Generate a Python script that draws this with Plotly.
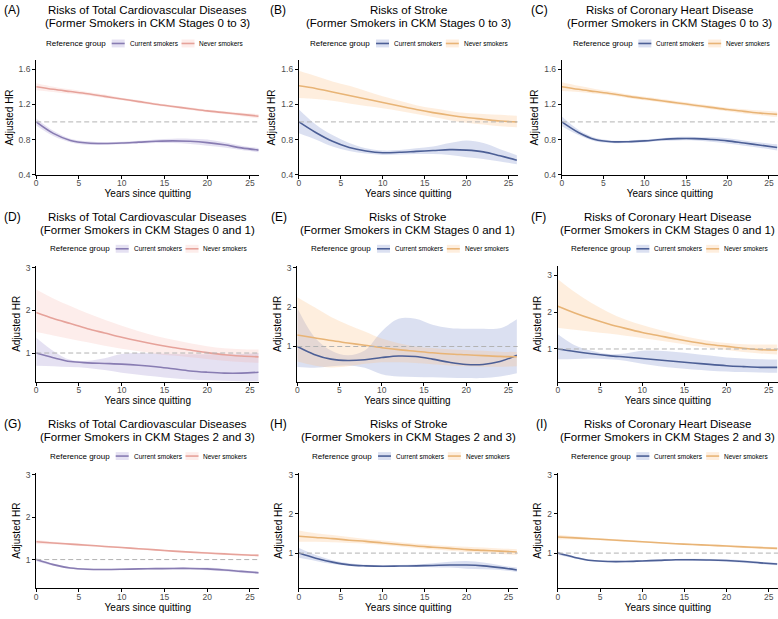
import plotly.graph_objects as go

# years since quitting (spline knots every 2 years)
YEARS = [0, 2, 4, 6, 8, 10, 12, 14, 16, 18, 20, 22, 24, 26]
REF_HR = 1.0

# ---- (A) total CVD, stages 0-3
A_CUR = [1.00, 0.87, 0.79, 0.76, 0.755, 0.76, 0.77, 0.78, 0.785, 0.78, 0.765, 0.74, 0.705, 0.68]
A_CUR_LO = [0.96, 0.84, 0.77, 0.74, 0.74, 0.745, 0.755, 0.76, 0.76, 0.75, 0.73, 0.71, 0.68, 0.655]
A_CUR_HI = [1.04, 0.90, 0.81, 0.78, 0.77, 0.775, 0.785, 0.80, 0.81, 0.81, 0.80, 0.77, 0.73, 0.705]
A_NEV = [1.40, 1.37, 1.345, 1.32, 1.29, 1.26, 1.23, 1.20, 1.175, 1.15, 1.125, 1.105, 1.085, 1.065]
A_NEV_LO = [1.36, 1.34, 1.32, 1.30, 1.27, 1.245, 1.215, 1.185, 1.16, 1.135, 1.11, 1.09, 1.065, 1.04]
A_NEV_HI = [1.44, 1.40, 1.37, 1.34, 1.31, 1.275, 1.245, 1.215, 1.19, 1.165, 1.14, 1.12, 1.105, 1.09]

# ---- (B) stroke, stages 0-3
B_CUR = [1.00, 0.88, 0.78, 0.71, 0.67, 0.65, 0.655, 0.665, 0.675, 0.685, 0.68, 0.66, 0.615, 0.565]
B_CUR_LO = [0.87, 0.80, 0.72, 0.67, 0.64, 0.625, 0.63, 0.635, 0.635, 0.625, 0.60, 0.58, 0.55, 0.52]
B_CUR_HI = [1.14, 0.97, 0.85, 0.76, 0.70, 0.675, 0.68, 0.70, 0.72, 0.76, 0.79, 0.76, 0.69, 0.62]
B_NEV = [1.41, 1.38, 1.34, 1.30, 1.26, 1.22, 1.18, 1.14, 1.105, 1.075, 1.05, 1.03, 1.01, 1.00]
B_NEV_LO = [1.27, 1.26, 1.24, 1.21, 1.18, 1.155, 1.125, 1.09, 1.055, 1.02, 0.99, 0.97, 0.95, 0.94]
B_NEV_HI = [1.58, 1.52, 1.46, 1.41, 1.35, 1.29, 1.24, 1.19, 1.155, 1.125, 1.10, 1.09, 1.08, 1.07]

# ---- (C) CHD, stages 0-3
C_CUR = [1.00, 0.88, 0.80, 0.775, 0.775, 0.785, 0.80, 0.81, 0.81, 0.80, 0.785, 0.76, 0.735, 0.71]
C_CUR_LO = [0.95, 0.85, 0.78, 0.76, 0.76, 0.77, 0.785, 0.79, 0.79, 0.775, 0.755, 0.73, 0.705, 0.675]
C_CUR_HI = [1.06, 0.91, 0.82, 0.79, 0.79, 0.80, 0.815, 0.83, 0.83, 0.825, 0.815, 0.79, 0.765, 0.745]
C_NEV = [1.40, 1.37, 1.345, 1.32, 1.29, 1.265, 1.24, 1.215, 1.19, 1.165, 1.14, 1.12, 1.10, 1.085]
C_NEV_LO = [1.35, 1.34, 1.32, 1.30, 1.27, 1.245, 1.22, 1.195, 1.17, 1.145, 1.12, 1.095, 1.075, 1.055]
C_NEV_HI = [1.45, 1.41, 1.375, 1.345, 1.31, 1.285, 1.26, 1.235, 1.21, 1.185, 1.16, 1.145, 1.13, 1.115]

# ---- (D) total CVD, stages 0-1
D_CUR = [1.00, 0.89, 0.80, 0.77, 0.755, 0.74, 0.715, 0.68, 0.63, 0.58, 0.55, 0.53, 0.53, 0.55]
D_CUR_LO = [0.70, 0.69, 0.67, 0.65, 0.60, 0.54, 0.49, 0.45, 0.41, 0.38, 0.36, 0.35, 0.34, 0.34]
D_CUR_HI = [1.36, 1.05, 0.84, 0.82, 0.88, 0.98, 1.00, 0.99, 0.98, 0.97, 0.97, 0.97, 0.98, 1.00]
D_NEV = [1.95, 1.81, 1.69, 1.57, 1.47, 1.37, 1.28, 1.20, 1.13, 1.07, 1.01, 0.96, 0.93, 0.91]
D_NEV_LO = [1.49, 1.41, 1.33, 1.25, 1.17, 1.10, 1.04, 0.98, 0.94, 0.90, 0.86, 0.82, 0.79, 0.77]
D_NEV_HI = [2.49, 2.28, 2.10, 1.93, 1.78, 1.64, 1.51, 1.40, 1.31, 1.23, 1.16, 1.11, 1.09, 1.08]

# ---- (E) stroke, stages 0-1
E_CUR = [1.00, 0.80, 0.68, 0.645, 0.665, 0.72, 0.76, 0.745, 0.68, 0.60, 0.545, 0.545, 0.62, 0.78]
E_CUR_LO = [0.48, 0.46, 0.50, 0.52, 0.46, 0.30, 0.24, 0.23, 0.22, 0.21, 0.20, 0.20, 0.24, 0.32]
E_CUR_HI = [1.98, 1.25, 0.90, 0.78, 0.90, 1.38, 1.70, 1.70, 1.55, 1.47, 1.45, 1.45, 1.46, 1.69]
E_NEV = [1.29, 1.22, 1.15, 1.09, 1.03, 0.97, 0.92, 0.88, 0.84, 0.81, 0.79, 0.77, 0.75, 0.74]
E_NEV_LO = [0.62, 0.52, 0.47, 0.50, 0.56, 0.60, 0.60, 0.58, 0.55, 0.52, 0.50, 0.49, 0.49, 0.50]
E_NEV_HI = [2.25, 2.00, 1.75, 1.55, 1.38, 1.20, 1.08, 1.00, 0.96, 0.93, 0.91, 0.89, 0.87, 0.86]

# ---- (F) CHD, stages 0-1
F_CUR = [1.00, 0.93, 0.87, 0.82, 0.78, 0.74, 0.70, 0.66, 0.62, 0.58, 0.545, 0.52, 0.50, 0.50]
F_CUR_LO = [0.72, 0.73, 0.74, 0.72, 0.68, 0.60, 0.53, 0.48, 0.44, 0.41, 0.39, 0.37, 0.36, 0.35]
F_CUR_HI = [1.40, 1.10, 0.95, 0.86, 0.88, 0.95, 0.95, 0.92, 0.87, 0.82, 0.77, 0.74, 0.72, 0.71]
F_NEV = [2.16, 1.98, 1.82, 1.68, 1.56, 1.45, 1.36, 1.27, 1.19, 1.12, 1.07, 1.02, 0.98, 0.97]
F_NEV_LO = [1.58, 1.52, 1.47, 1.42, 1.36, 1.30, 1.23, 1.16, 1.09, 1.03, 0.97, 0.92, 0.88, 0.85]
F_NEV_HI = [2.90, 2.55, 2.25, 2.00, 1.80, 1.65, 1.52, 1.40, 1.30, 1.22, 1.16, 1.13, 1.12, 1.12]

# ---- (G) total CVD, stages 2-3
G_CUR = [1.00, 0.88, 0.80, 0.77, 0.765, 0.77, 0.78, 0.785, 0.79, 0.79, 0.78, 0.755, 0.72, 0.69]
G_CUR_LO = [0.96, 0.855, 0.78, 0.75, 0.745, 0.75, 0.76, 0.765, 0.765, 0.765, 0.75, 0.725, 0.69, 0.66]
G_CUR_HI = [1.04, 0.905, 0.82, 0.79, 0.785, 0.79, 0.80, 0.805, 0.815, 0.815, 0.81, 0.785, 0.75, 0.72]
G_NEV = [1.42, 1.39, 1.365, 1.34, 1.31, 1.285, 1.255, 1.23, 1.20, 1.175, 1.155, 1.135, 1.115, 1.10]
G_NEV_LO = [1.37, 1.36, 1.34, 1.315, 1.29, 1.265, 1.235, 1.21, 1.18, 1.155, 1.13, 1.11, 1.09, 1.07]
G_NEV_HI = [1.47, 1.42, 1.39, 1.365, 1.33, 1.305, 1.275, 1.25, 1.22, 1.195, 1.18, 1.16, 1.14, 1.13]

# ---- (H) stroke, stages 2-3
H_CUR = [1.00, 0.87, 0.77, 0.70, 0.675, 0.665, 0.67, 0.675, 0.685, 0.695, 0.695, 0.675, 0.63, 0.57]
H_CUR_LO = [0.88, 0.80, 0.72, 0.67, 0.65, 0.64, 0.645, 0.645, 0.64, 0.63, 0.60, 0.59, 0.57, 0.52]
H_CUR_HI = [1.13, 0.95, 0.82, 0.74, 0.70, 0.69, 0.695, 0.71, 0.74, 0.78, 0.80, 0.76, 0.69, 0.63]
H_NEV = [1.43, 1.40, 1.37, 1.33, 1.30, 1.26, 1.22, 1.18, 1.15, 1.12, 1.09, 1.07, 1.05, 1.03]
H_NEV_LO = [1.29, 1.29, 1.28, 1.26, 1.24, 1.21, 1.17, 1.13, 1.09, 1.06, 1.03, 1.00, 0.98, 0.95]
H_NEV_HI = [1.58, 1.51, 1.46, 1.41, 1.36, 1.32, 1.28, 1.24, 1.21, 1.18, 1.16, 1.14, 1.12, 1.10]

# ---- (I) CHD, stages 2-3
I_CUR = [1.00, 0.89, 0.81, 0.785, 0.785, 0.80, 0.815, 0.83, 0.83, 0.825, 0.81, 0.785, 0.75, 0.72]
I_CUR_LO = [0.96, 0.865, 0.79, 0.765, 0.765, 0.78, 0.795, 0.81, 0.805, 0.80, 0.78, 0.755, 0.72, 0.69]
I_CUR_HI = [1.04, 0.915, 0.83, 0.805, 0.805, 0.82, 0.835, 0.85, 0.855, 0.85, 0.84, 0.815, 0.78, 0.75]
I_NEV = [1.41, 1.39, 1.365, 1.34, 1.315, 1.29, 1.265, 1.24, 1.22, 1.20, 1.18, 1.16, 1.14, 1.12]
I_NEV_LO = [1.35, 1.35, 1.335, 1.315, 1.29, 1.27, 1.245, 1.22, 1.20, 1.175, 1.155, 1.13, 1.11, 1.09]
I_NEV_HI = [1.47, 1.43, 1.395, 1.365, 1.34, 1.31, 1.285, 1.26, 1.24, 1.225, 1.205, 1.19, 1.17, 1.15]

TITLES_1 = ["Risks of Total Cardiovascular Diseases", "Risks of Stroke",
            "Risks of Coronary Heart Disease"]
TITLES_2 = ["(Former Smokers in CKM Stages 0 to 3)",
            "(Former Smokers in CKM Stages 0 and 1)",
            "(Former Smokers in CKM Stages 2 and 3)"]
LEGEND_TITLE = "Reference group"
GROUPS = ["Current smokers", "Never smokers"]

W, H = 778, 619
FONT = "Liberation Sans, Arial, sans-serif"

PURPLE, PURPLE_BAND = "#887cb2", "rgba(150,135,205,0.25)"
SALMON, SALMON_BAND = "#e6a29a", "rgba(245,165,155,0.2)"
BLUE, BLUE_BAND = "#4c5f96", "rgba(110,130,200,0.25)"
ORANGE, ORANGE_BAND = "#e8b476", "rgba(250,195,135,0.28)"

# plot boxes in pixels: left, right, top, bottom
COL_LEFT = [[34.3, 297.7, 561.3], [34.3, 296.0, 557.3], [34.3, 297.7, 557.3]]
COL_RIGHT = [258.0, 517.0, 778.0]
ROW_TOP = [58, 266, 476]
ROW_BOTTOM = [174, 384, 593]
LEG_X = [[42, 307, 570], [46, 308, 568], [46, 309, 568]]
LAB_X = [[0, 267, 528], [0, 268, 528], [0, 267, 533]]

panels = [
    ("A", A_CUR, A_CUR_LO, A_CUR_HI, A_NEV, A_NEV_LO, A_NEV_HI),
    ("B", B_CUR, B_CUR_LO, B_CUR_HI, B_NEV, B_NEV_LO, B_NEV_HI),
    ("C", C_CUR, C_CUR_LO, C_CUR_HI, C_NEV, C_NEV_LO, C_NEV_HI),
    ("D", D_CUR, D_CUR_LO, D_CUR_HI, D_NEV, D_NEV_LO, D_NEV_HI),
    ("E", E_CUR, E_CUR_LO, E_CUR_HI, E_NEV, E_NEV_LO, E_NEV_HI),
    ("F", F_CUR, F_CUR_LO, F_CUR_HI, F_NEV, F_NEV_LO, F_NEV_HI),
    ("G", G_CUR, G_CUR_LO, G_CUR_HI, G_NEV, G_NEV_LO, G_NEV_HI),
    ("H", H_CUR, H_CUR_LO, H_CUR_HI, H_NEV, H_NEV_LO, H_NEV_HI),
    ("I", I_CUR, I_CUR_LO, I_CUR_HI, I_NEV, I_NEV_LO, I_NEV_HI),
]
Y_RANGES = [[0.4, 1.7], [0.4, 1.7], [0.4, 1.7],
            [0.32, 3.05], [0.1, 3.05], [0.1, 3.27],
            [0.32, 3.05], [0.1, 3.05], [0.1, 3.05]]


def fx(p):
    return p / W


def fy(p):
    return 1 - p / H


fig = go.Figure()
annotations = []
shapes = []
layout_axes = {}

for i, (tag, cur, cur_lo, cur_hi, nev, nev_lo, nev_hi) in enumerate(panels):
    r, c = divmod(i, 3)
    n = "" if i == 0 else str(i + 1)
    xa, ya = "x" + n, "y" + n
    if c == 0:
        cur_col, cur_band, nev_col, nev_band = PURPLE, PURPLE_BAND, SALMON, SALMON_BAND
    else:
        cur_col, cur_band, nev_col, nev_band = BLUE, BLUE_BAND, ORANGE, ORANGE_BAND

    # confidence bands
    for lo, hi, band in [(cur_lo, cur_hi, cur_band), (nev_lo, nev_hi, nev_band)]:
        fig.add_trace(go.Scatter(x=YEARS, y=lo, mode="lines", line=dict(width=0, shape="spline"),
                                 xaxis=xa, yaxis=ya, showlegend=False, hoverinfo="skip"))
        fig.add_trace(go.Scatter(x=YEARS, y=hi, mode="lines", line=dict(width=0, shape="spline"),
                                 fill="tonexty", fillcolor=band,
                                 xaxis=xa, yaxis=ya, showlegend=False, hoverinfo="skip"))
    # estimates
    for vals, col, name in [(cur, cur_col, GROUPS[0]), (nev, nev_col, GROUPS[1])]:
        fig.add_trace(go.Scatter(x=YEARS, y=vals, mode="lines", name=name,
                                 line=dict(color=col, width=1.6, shape="spline"),
                                 xaxis=xa, yaxis=ya, showlegend=False))

    x0, x1 = COL_LEFT[r][c], COL_RIGHT[c]
    y0, y1 = ROW_TOP[r], ROW_BOTTOM[r]
    tickvals = [0.4, 0.8, 1.2, 1.6] if r == 0 else [1, 2, 3]
    layout_axes["xaxis" + n] = dict(
        domain=[fx(x0), fx(x1)], anchor=ya, range=[0, 26.1],
        tickvals=[0, 5, 10, 15, 20, 25], ticks="outside", ticklen=3,
        tickcolor="black", showline=True, linecolor="black", linewidth=1.2,
        showgrid=False, zeroline=False, tickfont=dict(size=8.5, color="#4d4d4d"),
        ticklabelstandoff=-3,
        title=dict(text="Years since quitting", font=dict(size=10, color="black"), standoff=0),
    )
    layout_axes["yaxis" + n] = dict(
        domain=[fy(y1), fy(y0)], anchor=xa, range=Y_RANGES[i],
        tickvals=tickvals, tickformat=".1f" if r == 0 else "d", ticks="outside", ticklen=3,
        tickcolor="black", showline=True, linecolor="black", linewidth=1.2,
        showgrid=False, zeroline=False, tickfont=dict(size=8.5, color="#4d4d4d"),
        title=dict(text="Adjusted HR", font=dict(size=10, color="black"), standoff=3),
    )

    # reference line HR = 1
    shapes.append(dict(type="line", xref=xa + " domain", yref=ya, x0=0, x1=1,
                       y0=REF_HR, y1=REF_HR, layer="above",
                       line=dict(color="#b3b3b3", width=1, dash="5px,3px")))

    # panel label and two-line title
    cx = (x0 + x1) / 2
    ty = y0 - 51 if r == 0 else y0 - 49
    annotations.append(dict(text="(%s)" % tag, x=fx(LAB_X[r][c]), y=fy(ty), xref="paper", yref="paper",
                            xanchor="left", yanchor="middle", showarrow=False,
                            font=dict(size=12, color="black")))
    annotations.append(dict(text=TITLES_1[c], x=fx(cx), y=fy(ty), xref="paper", yref="paper",
                            xanchor="center", yanchor="middle", showarrow=False,
                            font=dict(size=11.5, color="black")))
    annotations.append(dict(text=TITLES_2[r], x=fx(cx), y=fy(ty + 13), xref="paper", yref="paper",
                            xanchor="center", yanchor="middle", showarrow=False,
                            font=dict(size=11.5, color="black")))

    # legend row
    lx, ly = LEG_X[r][c], y0 - 17
    annotations.append(dict(text=LEGEND_TITLE, x=fx(lx), y=fy(ly), xref="paper", yref="paper",
                            xanchor="left", yanchor="middle", showarrow=False,
                            font=dict(size=8, color="black")))
    for k, (col, band) in enumerate([(cur_col, cur_band), (nev_col, nev_band)]):
        sx = lx + 68 + k * 70
        shapes.append(dict(type="rect", xref="paper", yref="paper",
                           x0=fx(sx), x1=fx(sx + 13), y0=fy(ly + 4), y1=fy(ly - 4),
                           fillcolor=band, line=dict(width=0)))
        shapes.append(dict(type="line", xref="paper", yref="paper",
                           x0=fx(sx), x1=fx(sx + 13), y0=fy(ly), y1=fy(ly),
                           line=dict(color=col, width=1.6)))
        annotations.append(dict(text=GROUPS[k], x=fx(sx + 16), y=fy(ly), xref="paper", yref="paper",
                                xanchor="left", yanchor="middle", showarrow=False,
                                font=dict(size=6.5, color="black")))

fig.update_layout(
    width=W, height=H,
    margin=dict(l=0, r=0, t=0, b=0),
    paper_bgcolor="white", plot_bgcolor="white",
    font=dict(family=FONT, color="black"),
    showlegend=False,
    annotations=annotations, shapes=shapes,
    **layout_axes,
)

fig.write_html("out.html", config={"displayModeBar": False},
               post_script="document.body.style.margin='0';")
